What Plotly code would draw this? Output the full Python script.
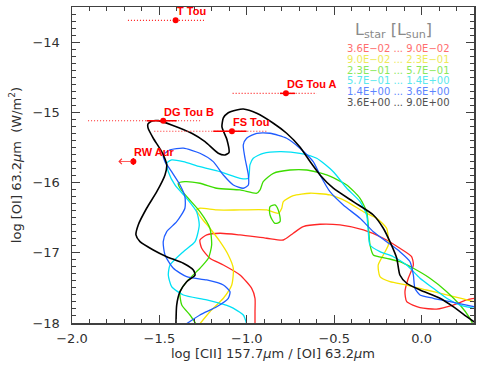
import plotly.graph_objects as go

# ---------------- contour data (log [CII]/[OI], log [OI]) ----------------
red_x = [-0.953, -0.953, -0.953, -0.972, -1.039, -1.134, -1.211, -1.258, -1.268, -1.229,
         -1.153, -1.039, -0.886, -0.791, -0.734, -0.677, -0.581, -0.467, -0.333, -0.219,
         -0.124, -0.057, -0.047, -0.076, -0.095, -0.085, -0.009, 0.086, 0.181, 0.258, 0.300, 0.350]
red_y = [-18.01, -17.839, -17.648, -17.506, -17.316, -17.174, -17.078, -16.936, -16.818, -16.746,
         -16.722, -16.746, -16.793, -16.818, -16.722, -16.628, -16.594, -16.604, -16.675, -16.793,
         -16.936, -17.056, -17.174, -17.363, -17.554, -17.697, -17.782, -17.801, -17.744, -17.672, -17.648, -17.62]

yellow_x = [-1.268, -1.211, -1.134, -1.086, -1.077, -1.106, -1.153, -1.211, -1.258, -1.287,
            -1.268, -1.172, -1.039, -0.886, -0.820, -0.800, -0.791, -0.734, -0.638, -0.524,
            -0.428, -0.333, -0.257, -0.200, -0.190, -0.219, -0.248, -0.238, -0.181, -0.085,
            0.029, 0.144, 0.239, 0.300, 0.350]
yellow_y = [-18.01, -17.839, -17.648, -17.459, -17.221, -17.031, -16.842, -16.651, -16.509, -16.390,
            -16.366, -16.390, -16.390, -16.390, -16.437, -16.366, -16.272, -16.187, -16.152, -16.177,
            -16.272, -16.415, -16.509, -16.651, -16.889, -17.031, -17.174, -17.340, -17.412, -17.459,
            -17.530, -17.601, -17.658, -17.697, -17.73]

green_x = [-1.291, -1.325, -1.372, -1.382, -1.335, -1.268, -1.220, -1.201, -1.211, -1.268,
           -1.335, -1.382, -1.392, -1.354, -1.268, -1.172, -1.039, -0.943, -0.924, -0.906,
           -0.848, -0.753, -0.657, -0.543, -0.428, -0.352, -0.314, -0.305, -0.295, -0.276,
           -0.200, -0.124, -0.047, 0.048, 0.144, 0.220, 0.277, 0.292, 0.300]
green_y = [-18.01, -17.886, -17.744, -17.554, -17.387, -17.221, -17.078, -16.889, -16.651, -16.415,
           -16.224, -16.081, -16.010, -15.987, -16.010, -16.081, -16.105, -16.152, -16.105, -15.987,
           -15.868, -15.821, -15.821, -15.892, -16.034, -16.224, -16.415, -16.604, -16.889, -17.031,
           -17.078, -17.127, -17.221, -17.363, -17.554, -17.744, -17.933, -18.01, -18.05]

island_x = [-0.867, -0.839, -0.820, -0.810, -0.839, -0.867, -0.867]
island_y = [-16.343, -16.319, -16.390, -16.557, -16.580, -16.462, -16.343]

cyan_x = [-1.001, -1.020, -1.096, -1.229, -1.363, -1.430, -1.449, -1.439, -1.363, -1.296,
          -1.272, -1.287, -1.344, -1.411, -1.449, -1.458, -1.430, -1.363, -1.268, -1.153,
          -1.039, -0.991, -0.982, -0.963, -0.906, -0.810, -0.696, -0.600, -0.505, -0.428,
          -0.352, -0.314, -0.305, -0.295, -0.238, -0.162, -0.085, -0.009, 0.067, 0.144,
          0.220, 0.300, 0.350]
cyan_y = [-18.01, -17.886, -17.768, -17.672, -17.601, -17.483, -17.316, -17.174, -16.984, -16.842,
          -16.604, -16.415, -16.224, -16.034, -15.845, -15.725, -15.678, -15.702, -15.774, -15.845,
          -15.939, -15.939, -15.749, -15.654, -15.583, -15.560, -15.583, -15.654, -15.845, -16.081,
          -16.272, -16.462, -16.699, -16.889, -16.984, -17.056, -17.174, -17.363, -17.506, -17.648,
          -17.744, -17.791, -17.82]

blue_x = [-1.344, -1.268, -1.172, -1.106, -1.096, -1.134, -1.229, -1.344, -1.420, -1.468,
          -1.478, -1.458, -1.401, -1.354, -1.354, -1.382, -1.430, -1.468, -1.478, -1.439,
          -1.363, -1.268, -1.192, -1.134, -1.077, -1.020, -0.991, -0.991, -1.010, -1.020,
          -1.001, -0.943, -0.867, -0.772, -0.696, -0.620, -0.581, -0.524, -0.448, -0.352,
          -0.276, -0.200, -0.124, -0.066, -0.047, -0.038, -0.009, 0.067, 0.163, 0.258,
          0.300, 0.350]
blue_y = [-18.01, -17.886, -17.768, -17.648, -17.554, -17.459, -17.387, -17.340, -17.221, -17.031,
          -16.842, -16.699, -16.557, -16.366, -16.201, -16.034, -15.845, -15.702, -15.607, -15.536,
          -15.511, -15.583, -15.702, -15.892, -16.034, -16.081, -16.034, -15.892, -15.654, -15.464,
          -15.369, -15.298, -15.298, -15.369, -15.511, -15.702, -15.892, -16.130, -16.319, -16.509,
          -16.699, -16.842, -16.984, -17.127, -17.316, -17.506, -17.601, -17.648, -17.697, -17.744,
          -17.768, -17.80]

black_x = [-1.405, -1.401, -1.382, -1.344, -1.296, -1.306, -1.363, -1.458, -1.535, -1.611,
           -1.634, -1.621, -1.573, -1.515, -1.468, -1.458, -1.487, -1.535, -1.565, -1.565,
           -1.542, -1.506, -1.430, -1.315, -1.239, -1.163, -1.125, -1.102, -1.113, -1.142,
           -1.134, -1.108, -1.058, -1.020, -0.943, -0.848, -0.772, -0.696, -0.638, -0.581,
           -0.505, -0.391, -0.276, -0.219, -0.181, -0.142, -0.124, -0.085, -0.009, 0.105,
           0.181, 0.258, 0.311, 0.350]
black_y = [-18.01, -17.744, -17.554, -17.412, -17.316, -17.245, -17.150, -17.056, -16.960, -16.842,
           -16.746, -16.604, -16.366, -16.130, -15.892, -15.749, -15.560, -15.369, -15.222, -15.165,
           -15.123, -15.118, -15.179, -15.298, -15.417, -15.583, -15.607, -15.574, -15.393, -15.208,
           -15.080, -15.009, -14.966, -14.952, -15.013, -15.155, -15.298, -15.493, -15.702, -15.892,
           -16.081, -16.272, -16.462, -16.651, -16.842, -17.078, -17.316, -17.434, -17.530, -17.648,
           -17.768, -17.910, -18.0, -18.06]

# ---------------- observed sources ----------------
src_names = ["T Tou", "DG Tou A", "DG Tou B", "FS Tou", "RW Aur"]
src_x = [-1.407, -0.776, -1.478, -1.085, -1.649]
src_y = [-13.69, -14.73, -15.12, -15.27, -15.70]
dot_lo = [-1.680, -1.081, -1.908, -1.529, None]
dot_hi = [-1.239, -0.600, -1.258, -0.879, None]
err_lo = [-1.407, -0.810, -1.573, -1.192, -1.649]
err_hi = [-1.407, -0.724, -1.401, -1.001, -1.649]
err_y = [0.0, 0.0, 0.0, 0.0, 0.05]
rw_limit_tip = -1.735   # upper-limit arrow end for RW Aur

# ---------------- legend text ----------------
lum_lo = ["3.6E\u221202", "9.0E\u221202", "2.3E\u221201", "5.7E\u221201", "1.4E+00", "3.6E+00"]
lum_hi = ["9.0E\u221202", "2.3E\u221201", "5.7E\u221201", "1.4E+00", "3.6E+00", "9.0E+00"]

line_colors = ["#ff2626", "#f5e400", "#3ddc00", "#00e1f5", "#1f5cff", "#000000"]
text_colors = ["#ff6e6e", "#eeea5a", "#8be85a", "#5ae8ee", "#5d86ff", "#505050"]

fig = go.Figure()

contours = [(red_x, red_y), (yellow_x, yellow_y), (green_x, green_y),
            (cyan_x, cyan_y), (blue_x, blue_y), (black_x, black_y)]
for (cx, cy), col in zip(contours, line_colors):
    fig.add_trace(go.Scatter(x=cx, y=cy, mode="lines",
                             line=dict(color=col, width=1.6 if col == "#000000" else 1.3,
                                       shape="spline", smoothing=0.6),
                             hoverinfo="skip", showlegend=False))
fig.add_trace(go.Scatter(x=island_x, y=island_y, mode="lines",
                         line=dict(color=line_colors[2], width=1.3, shape="spline", smoothing=0.8),
                         hoverinfo="skip", showlegend=False))

# dotted ranges
dx, dy = [], []
for lo, hi, yy in zip(dot_lo, dot_hi, src_y):
    if lo is None:
        continue
    dx += [lo, hi, None]
    dy += [yy, yy, None]
fig.add_trace(go.Scatter(x=dx, y=dy, mode="lines",
                         line=dict(color="#ff2020", width=1.1, dash="1px,2px"),
                         hoverinfo="skip", showlegend=False))

# points with solid error bars
fig.add_trace(go.Scatter(
    x=src_x, y=src_y, mode="markers",
    marker=dict(color="#ff0000", size=6),
    error_x=dict(type="data", symmetric=False,
                 array=[h - x for h, x in zip(err_hi, src_x)],
                 arrayminus=[x - l for l, x in zip(err_lo, src_x)],
                 color="#ff0000", thickness=1.5, width=0),
    error_y=dict(type="data", array=err_y, color="#ff0000", thickness=1.5, width=0),
    hoverinfo="skip", showlegend=False))

annotations = []
for name, x, y in zip(src_names, src_x, src_y):
    annotations.append(dict(x=x, y=y, xref="x", yref="y", text=name, showarrow=False,
                            xanchor="left", yanchor="middle", yshift=9, xshift=-1,
                            font=dict(family="Liberation Sans", size=11, color="#ff0000", weight="bold")))
# RW Aur upper limit arrow
annotations.append(dict(x=rw_limit_tip, y=src_y[4], ax=src_x[4], ay=src_y[4], xref="x", yref="y",
                        axref="x", ayref="y", text="", showarrow=True, arrowhead=4, arrowsize=1.3,
                        arrowwidth=0.8, arrowcolor="#ff3030"))

# legend header & rows
annotations.append(dict(x=0.80, y=0.925, xref="paper", yref="paper", showarrow=False,
                        xanchor="center", yanchor="middle",
                        text="L<sub>star</sub> [L<sub>sun</sub>]",
                        font=dict(family="DejaVu Sans", size=16, color="#8a8a8a")))
for i, (lo, hi) in enumerate(zip(lum_lo, lum_hi)):
    annotations.append(dict(x=0.945, y=0.869 - i * 0.0342, xref="paper", yref="paper",
                            showarrow=False, xanchor="right", yanchor="middle",
                            text=f"{lo} ... {hi}",
                            font=dict(family="DejaVu Sans", size=10, color=text_colors[i])))

axis_common = dict(showline=True, linecolor="#404040", linewidth=1.5, mirror="ticks",
                   ticks="inside", ticklen=8, tickwidth=1, tickcolor="#404040",
                   showgrid=False, zeroline=False, automargin=False,
                   tickfont=dict(family="DejaVu Sans", size=13, color="#303030"))

fig.update_layout(
    width=480, height=367,
    margin=dict(l=72, r=6, t=7, b=44),
    paper_bgcolor="white", plot_bgcolor="white",
    showlegend=False,
    annotations=annotations,
    xaxis=dict(range=[-2.0, 0.3], dtick=0.5, tick0=0, tickformat=".1f",
               minor=dict(dtick=0.1, ticks="inside", ticklen=4, tickcolor="#404040", showgrid=False),
               title=dict(text="log [CII] 157.7<i>\u03bc</i>m / [OI] 63.2<i>\u03bc</i>m", standoff=4,
                          font=dict(family="DejaVu Sans", size=13, color="#303030")),
               ticklabelstandoff=3,
               **axis_common),
    yaxis=dict(range=[-18.0, -13.5], dtick=1, tick0=0,
               minor=dict(dtick=0.1, ticks="inside", ticklen=4, tickcolor="#404040", showgrid=False),
               title=dict(text="log [OI] 63.2<i>\u03bc</i>m  (W/m<sup>2</sup>)", standoff=8,
                          font=dict(family="DejaVu Sans", size=13, color="#303030")),
               ticklabelstandoff=8,
               **axis_common),
)

fig.write_html("out.html", config={"displayModeBar": False, "staticPlot": True},
               post_script="document.body.style.margin='0';document.body.style.overflow='hidden';")
